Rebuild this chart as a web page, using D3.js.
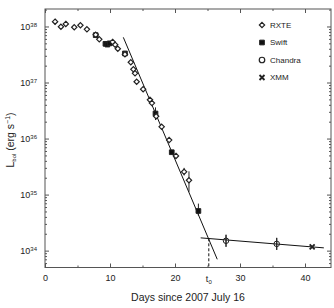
<!DOCTYPE html>
<html>
<head>
<meta charset="utf-8">
<title>Lbol decay</title>
<style>
  body { margin: 0; background: #fff; }
  svg { font-family: "Liberation Sans", Arial, sans-serif; }
  .axis path, .axis line { stroke: #555; fill: none; }
  .axis text { font-size: 9px; fill: #222; }
</style>
</head>
<body>
<div id="chart"></div>
<script src="https://d3js.org/d3.v7.min.js"></script>
<script>
// data (days since 2007 July 16, erg/s)
var rxteDays = [1.55, 2.45, 3.2, 4.5, 5.45, 6.45, 7.8, 8.35, 10.4, 10.8, 11.2, 12.3, 13.2, 13.6, 13.85, 14.1, 15.1, 16.15, 16.45, 17.1, 17.95, 19.1, 20.15, 21.4, 22.15];
var rxteLum  = [1.22e38, 9.9e37, 1.11e38, 9.7e37, 1.05e38, 8.9e37, 7.1e37, 5.9e37, 5.3e37, 4.7e37, 4.0e37, 3.2e37, 2.3e37, 1.72e37, 1.46e37, 1.03e37, 7.6e36, 4.9e36, 4.3e36, 2.5e36, 1.62e36, 9.4e35, 4.9e35, 2.55e35, 1.8e35];
var swiftDays = [7.8, 9.3, 9.6, 9.95, 12.3, 17.0, 19.5, 23.6];
var swiftLum  = [7.0e37, 4.9e37, 4.75e37, 5.0e37, 3.3e37, 2.8e36, 5.7e35, 5.1e34];
var chandraDays = [27.85, 35.65];
var chandraLum  = [1.5e34, 1.32e34];
var xmmDays = [41.1];
var xmmLum  = [1.17e34];
// error bars: day, low, high
var errDays = [1.55, 17.0, 21.4, 22.15, 23.6, 27.85, 35.65];
var errLow  = [1.08e38, 2.14e36, 2.2e35, 1.12e35, 4.2e34, 1.17e34, 1.03e34];
var errHigh = [1.35e38, 3.6e36, 3.0e35, 2.6e35, 6.9e34, 1.92e34, 1.69e34];
// fitted lines
var decayLine = [[12.05, 6.4e37], [26.5, 7.0e33]];
var flatLine = [[23.95, 1.69e34], [42.9, 1.12e34]];
var t0 = 25.2, t0Lum = 1.66e34;
var xMajor = [0, 10, 20, 30, 40];
var xMinor = [5, 15, 25, 35];
var yMajor = [1e34, 1e35, 1e36, 1e37, 1e38];
var legendNames = ["RXTE", "Swift", "Chandra", "XMM"];

var margin = {top: 9, right: 3, bottom: 40.5, left: 45},
    width = 334 - margin.left - margin.right,
    height = 308 - margin.top - margin.bottom;

var svg = d3.select("#chart").append("svg")
    .attr("width", 334).attr("height", 308)
  .append("g")
    .attr("transform", "translate(" + margin.left + "," + margin.top + ")");

var x = d3.scaleLinear().domain([0, 44]).range([0, width]);
var y = d3.scaleLog().domain([5e33, 2.05e38]).range([height, 0]);

// minor log ticks
var yMinor = [];
[33, 34, 35, 36, 37, 38].forEach(function(e) {
  for (var m = 2; m <= 9; m++) {
    var v = m * Math.pow(10, e);
    if (v > 5e33 && v < 2.05e38) yMinor.push(v);
  }
});

// bottom axis
svg.append("g").attr("class", "axis")
  .attr("transform", "translate(0," + height + ")")
  .call(d3.axisBottom(x).tickValues(xMajor).tickSize(-4).tickPadding(7).tickFormat(d3.format("d")))
  .call(function(g) { g.select(".domain").remove(); });
svg.append("g").attr("class", "axis")
  .attr("transform", "translate(0," + height + ")")
  .call(d3.axisBottom(x).tickValues(xMinor).tickSize(-2).tickFormat(""))
  .call(function(g) { g.select(".domain").remove(); });
// top axis
svg.append("g").attr("class", "axis")
  .call(d3.axisTop(x).tickValues(xMajor).tickSize(-4).tickFormat(""))
  .call(function(g) { g.select(".domain").remove(); });
svg.append("g").attr("class", "axis")
  .call(d3.axisTop(x).tickValues(xMinor).tickSize(-2).tickFormat(""))
  .call(function(g) { g.select(".domain").remove(); });

// left axis
var yl = svg.append("g").attr("class", "axis")
  .call(d3.axisLeft(y).tickValues(yMajor).tickSize(-4).tickPadding(8).tickFormat(""))
  .call(function(g) { g.select(".domain").remove(); });
yl.selectAll(".tick text").each(function(d) {
  var t = d3.select(this).attr("dy", "0.35em");
  t.append("tspan").text("10");
  t.append("tspan").attr("dy", "-0.5em").attr("font-size", "6px").text(Math.round(Math.log10(d)));
});
svg.append("g").attr("class", "axis")
  .call(d3.axisLeft(y).tickValues(yMinor).tickSize(-2).tickFormat(""))
  .call(function(g) { g.select(".domain").remove(); });
// right axis
svg.append("g").attr("class", "axis")
  .attr("transform", "translate(" + width + ",0)")
  .call(d3.axisRight(y).tickValues(yMajor).tickSize(-4).tickFormat(""))
  .call(function(g) { g.select(".domain").remove(); });
svg.append("g").attr("class", "axis")
  .attr("transform", "translate(" + width + ",0)")
  .call(d3.axisRight(y).tickValues(yMinor).tickSize(-2).tickFormat(""))
  .call(function(g) { g.select(".domain").remove(); });

// frame
svg.append("rect")
  .attr("width", width).attr("height", height)
  .attr("fill", "none").attr("stroke", "#555").attr("stroke-width", 1);

// fit lines
var line = d3.line().x(function(d) { return x(d[0]); }).y(function(d) { return y(d[1]); });
svg.append("path").datum(decayLine).attr("d", line)
  .attr("stroke", "#111").attr("stroke-width", 1).attr("fill", "none");
svg.append("path").datum(flatLine).attr("d", line)
  .attr("stroke", "#111").attr("stroke-width", 1).attr("fill", "none");
svg.append("line")
  .attr("x1", x(t0)).attr("x2", x(t0))
  .attr("y1", y(t0Lum)).attr("y2", height)
  .attr("stroke", "#111").attr("stroke-dasharray", "3,2");

// error bars
svg.selectAll(".err").data(errDays).enter().append("line")
  .attr("class", "err")
  .attr("x1", function(d) { return x(d); })
  .attr("x2", function(d) { return x(d); })
  .attr("y1", function(d, i) { return y(errLow[i]); })
  .attr("y2", function(d, i) { return y(errHigh[i]); })
  .attr("stroke", "#222").attr("stroke-width", 1);

var diamond = d3.symbol().type(d3.symbolDiamond2).size(18);
var square = d3.symbol().type(d3.symbolSquare).size(22);
var circle = d3.symbol().type(d3.symbolCircle).size(24);
var cross = d3.symbol().type(d3.symbolX).size(18);

function plot(days, lum, sym, fill, sw) {
  svg.append("g").selectAll("path").data(days).enter().append("path")
    .attr("d", sym)
    .attr("transform", function(d, i) { return "translate(" + x(d) + "," + y(lum[i]) + ")"; })
    .attr("fill", fill)
    .attr("stroke", "#222").attr("stroke-width", sw);
}
plot(swiftDays, swiftLum, square, "#111", 1);
plot(rxteDays, rxteLum, diamond, "#fff", 1.2);
plot(chandraDays, chandraLum, circle, "none", 1);
plot(xmmDays, xmmLum, cross, "none", 1.8);
// error bars over the chandra circles
svg.selectAll(".err2").data(errDays.slice(5)).enter().append("line")
  .attr("x1", function(d) { return x(d); })
  .attr("x2", function(d) { return x(d); })
  .attr("y1", function(d, i) { return y(errLow[i + 5]); })
  .attr("y2", function(d, i) { return y(errHigh[i + 5]); })
  .attr("stroke", "#222");

// legend
var legSyms = [diamond, square, circle, cross];
var legFill = ["#fff", "#111", "none", "none"];
var legStroke = [1.2, 1, 1.2, 1.8];
var leg = svg.append("g").attr("transform", "translate(" + (262 - margin.left) + "," + (25 - margin.top) + ")");
legendNames.forEach(function(name, i) {
  var g = leg.append("g").attr("transform", "translate(0," + (i * 17.5) + ")");
  g.append("path").attr("d", legSyms[i]).attr("fill", legFill[i])
    .attr("stroke", "#222").attr("stroke-width", legStroke[i]);
  g.append("text").attr("x", 8).attr("dy", "0.35em")
    .attr("font-size", "8px").attr("fill", "#222").text(name);
});

// t0 label
var tl = svg.append("text")
  .attr("x", x(t0)).attr("y", height + 14.5)
  .attr("text-anchor", "middle").attr("font-size", "9px").attr("fill", "#222");
tl.append("tspan").text("t");
tl.append("tspan").attr("dy", "2").attr("font-size", "6px").text("0");

// axis titles
svg.append("text")
  .attr("x", width / 2).attr("y", height + 33)
  .attr("text-anchor", "middle").attr("font-size", "10.5px").attr("fill", "#222")
  .text("Days since 2007 July 16");

var yt = svg.append("text")
  .attr("transform", "translate(" + (14 - margin.left) + "," + (140 - margin.top) + ") rotate(-90)")
  .attr("text-anchor", "middle").attr("font-size", "10.5px").attr("fill", "#222");
yt.append("tspan").text("L");
yt.append("tspan").attr("dy", "2").attr("font-size", "6px").text("bol");
yt.append("tspan").attr("dy", "-2").text(" (erg s");
yt.append("tspan").attr("dy", "-4").attr("font-size", "7px").text("\u22121");
yt.append("tspan").attr("dy", "4").text(")");
</script>
</body>
</html>
